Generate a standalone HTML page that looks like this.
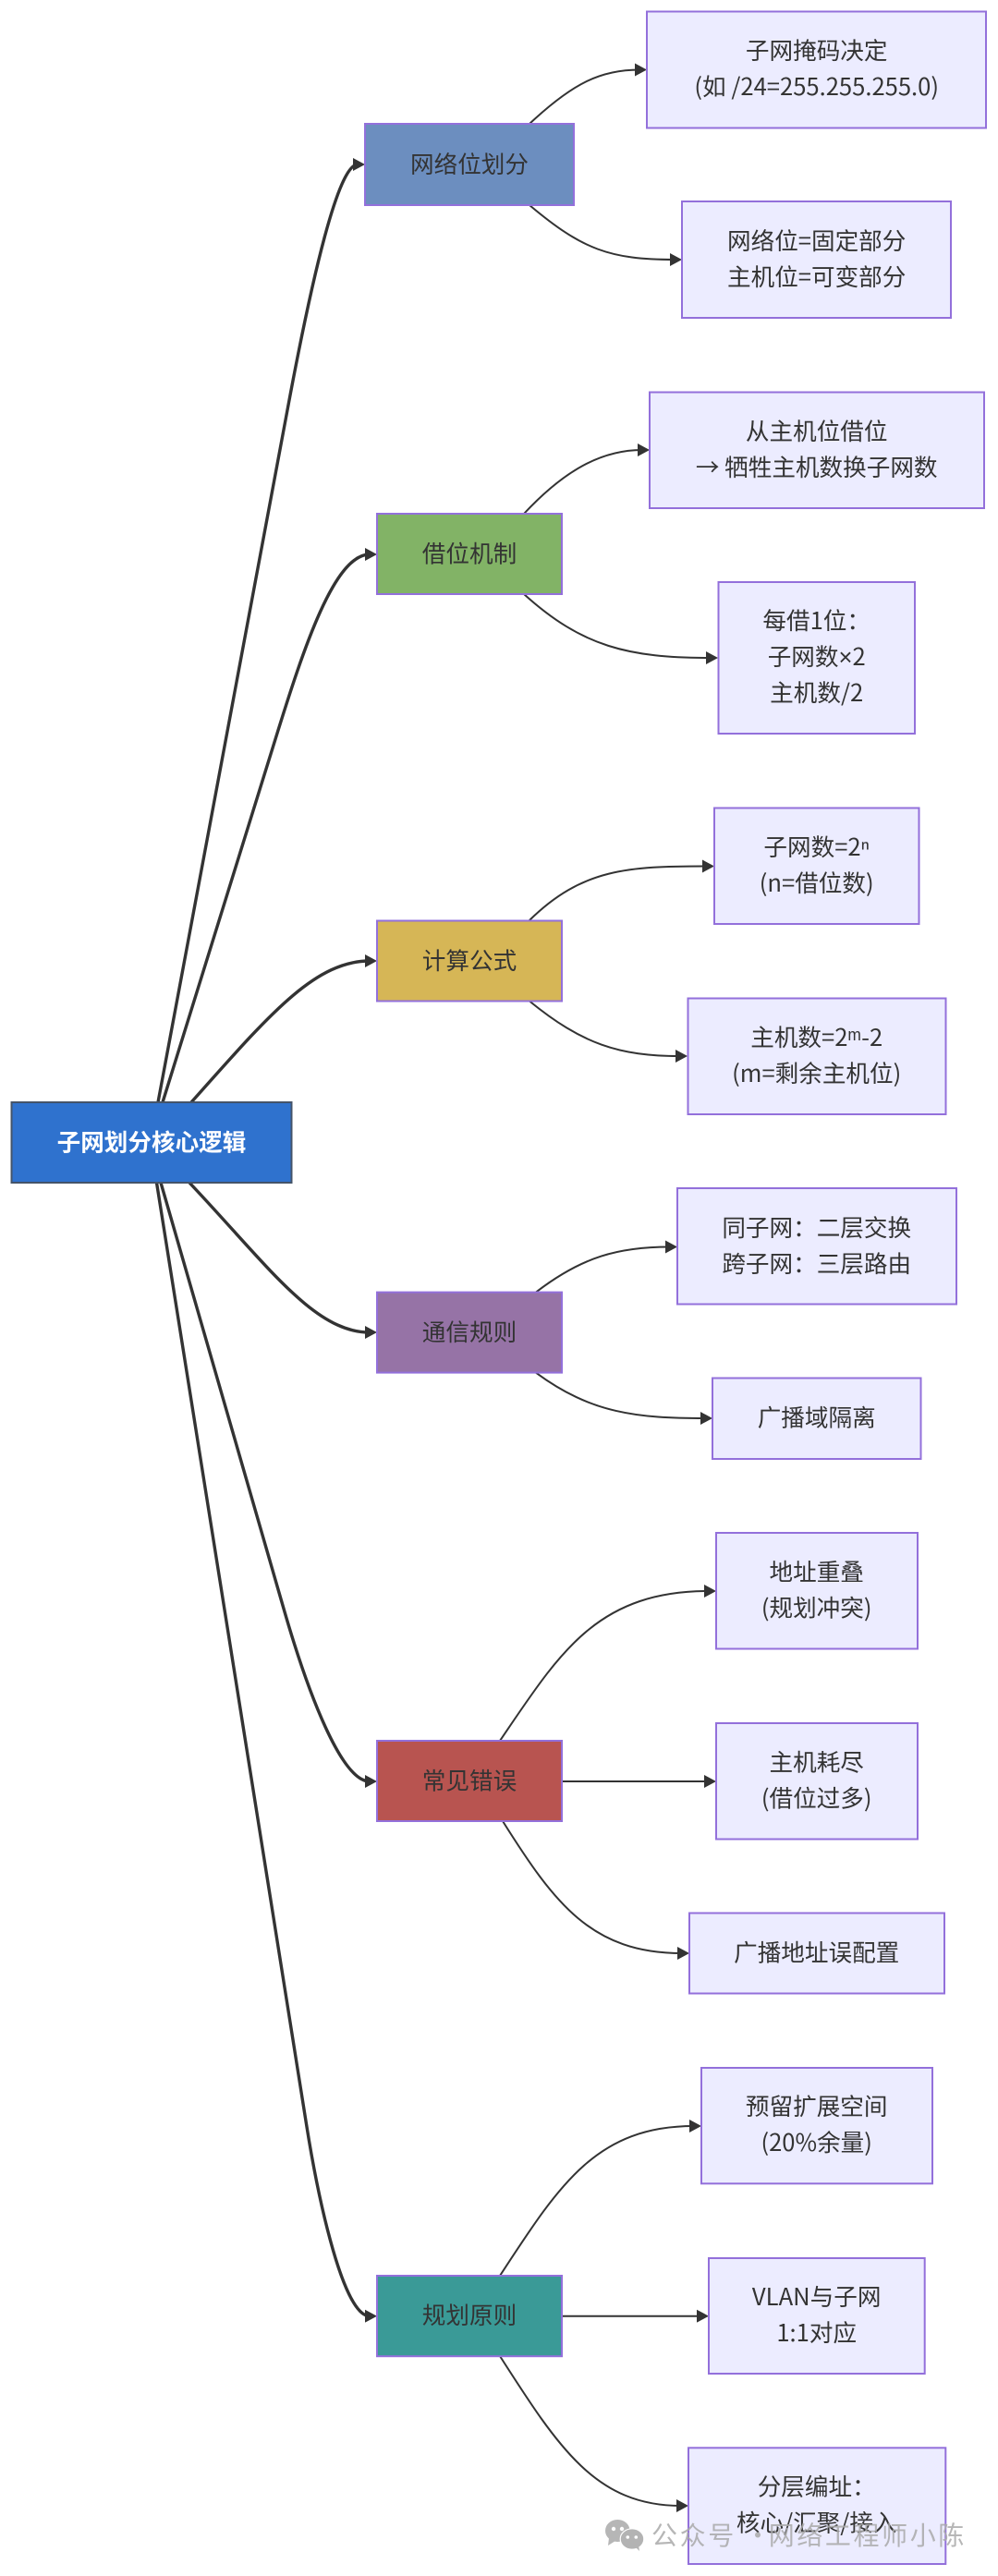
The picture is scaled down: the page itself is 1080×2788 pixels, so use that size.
<!DOCTYPE html>
<html><head><meta charset="utf-8"><style>
html,body{margin:0;padding:0;background:#fff}
svg{display:block}
text{font-family:"WenQuanYi Zen Hei","Noto Sans CJK SC","Liberation Sans",sans-serif;font-size:25.6px;fill:#333;text-anchor:middle}
.l{fill:#ececff;stroke:#9370db;stroke-width:2}
.n{stroke:#9370db;stroke-width:2}
.e1{fill:none;stroke:#333;stroke-width:3.4}
.e2{fill:none;stroke:#333;stroke-width:2}
</style></head><body>
<svg width="1080" height="2788" viewBox="0 0 1080 2788" xmlns="http://www.w3.org/2000/svg">
<defs><marker id="a" markerUnits="userSpaceOnUse" markerWidth="13" markerHeight="14" refX="5" refY="7" orient="auto" viewBox="0 0 13 14"><path d="M0,0L13,7L0,14z" fill="#333"/></marker></defs>
<rect width="1080" height="2788" fill="#fff"/>

<path class="e1" marker-end="url(#a)" d="M171,1193 L311.7,440 C337.8,300 366,178 387,178"/>
<path class="e1" marker-end="url(#a)" d="M176,1193 L298,800 C329,700 362,600 400,600"/>
<path class="e1" marker-end="url(#a)" d="M207,1193 C290,1100 340,1040 400,1040"/>
<path class="e1" marker-end="url(#a)" d="M205,1280 C290,1370 340,1442 400,1442"/>
<path class="e1" marker-end="url(#a)" d="M174,1280 L306.7,1740 C334,1835 370,1928 400,1928"/>
<path class="e1" marker-end="url(#a)" d="M169.5,1280 L331.7,2300 C345.2,2385 372,2506.7 400,2506.7"/>
<path class="e2" marker-end="url(#a)" d="M573,134 C620,90 650,75.5 692,75.5"/>
<path class="e2" marker-end="url(#a)" d="M573,222 C630,270 660,281 730,281"/>
<path class="e2" marker-end="url(#a)" d="M567,556 C610,510 650,487 695,487"/>
<path class="e2" marker-end="url(#a)" d="M567,643 C630,700 680,712 769,712"/>
<path class="e2" marker-end="url(#a)" d="M573,996 C630,940 680,937.5 765,937.5"/>
<path class="e2" marker-end="url(#a)" d="M573,1083.5 C630,1130 670,1143 736,1143"/>
<path class="e2" marker-end="url(#a)" d="M580,1398.6 C630,1360 670,1349.5 725,1349.5"/>
<path class="e2" marker-end="url(#a)" d="M580,1485.7 C640,1530 690,1535 763,1535"/>
<path class="e2" marker-end="url(#a)" d="M541,1884 C605,1790 645,1722 767,1722"/>
<path class="e2" marker-end="url(#a)" d="M608,1928 L767,1928"/>
<path class="e2" marker-end="url(#a)" d="M544,1971 C600,2060 640,2114 738,2114"/>
<path class="e2" marker-end="url(#a)" d="M541,2463 C605,2365 645,2301 751,2301"/>
<path class="e2" marker-end="url(#a)" d="M608,2506.7 L759,2506.7"/>
<path class="e2" marker-end="url(#a)" d="M541,2550 C605,2650 645,2712 737,2712"/>

<rect x="12.5" y="1193" width="303" height="87" fill="#2f72ce" stroke="#44546a" stroke-width="2"/>
<text x="164" y="1245.5" style="fill:#fff;font-weight:700">子网划分核心逻辑</text>

<rect class="n" x="395" y="134" width="226" height="88" fill="#6c8ebf"/><text x="508" y="187">网络位划分</text>
<rect class="n" x="408" y="556" width="200" height="87" fill="#82b366"/><text x="508" y="608.5">借位机制</text>
<rect class="n" x="408" y="996.5" width="200" height="87" fill="#d6b656"/><text x="508" y="1049">计算公式</text>
<rect class="n" x="408" y="1398.6" width="200" height="87" fill="#9673a6"/><text x="508" y="1451">通信规则</text>
<rect class="n" x="408" y="1884" width="200" height="87" fill="#b85450"/><text x="508" y="1936.5">常见错误</text>
<rect class="n" x="408" y="2463" width="200" height="87.2" fill="#3a9a97"/><text x="508" y="2515">规划原则</text>

<rect class="l" x="700" y="12.5" width="367" height="126"/><text x="883.7" y="64">子网掩码决定</text><text x="883.7" y="103">(如 /24=255.255.255.0)</text>
<rect class="l" x="738" y="218" width="291" height="126"/><text x="883.7" y="270">网络位=固定部分</text><text x="883.7" y="309">主机位=可变部分</text>
<rect class="l" x="703" y="424.5" width="362" height="125.5"/><text x="883.7" y="476">从主机位借位</text><text x="883.7" y="515">→ 牺牲主机数换子网数</text>
<rect class="l" x="777.5" y="630" width="212.5" height="164"/><text x="883.7" y="681">每借1位：</text><text x="883.7" y="720">子网数<tspan style="font-family:'Liberation Sans',sans-serif">×</tspan>2</text><text x="883.7" y="759">主机数/2</text>
<rect class="l" x="773" y="874.5" width="221.5" height="125.5"/><text x="883.7" y="926">子网数=2ⁿ</text><text x="883.7" y="965">(n=借位数)</text>
<rect class="l" x="744.5" y="1080.5" width="279" height="125.5"/><text x="883.7" y="1132">主机数=2ᵐ-2</text><text x="883.7" y="1171">(m=剩余主机位)</text>
<rect class="l" x="733" y="1286" width="302" height="125.5"/><text x="883.7" y="1338">同子网：二层交换</text><text x="883.7" y="1377">跨子网：三层路由</text>
<rect class="l" x="771" y="1491.5" width="225.5" height="87.5"/><text x="883.7" y="1543.5">广播域隔离</text>
<rect class="l" x="775" y="1659" width="218" height="125.5"/><text x="883.7" y="1710.5">地址重叠</text><text x="883.7" y="1749.5">(规划冲突)</text>
<rect class="l" x="775" y="1865" width="218" height="125.5"/><text x="883.7" y="1916.5">主机耗尽</text><text x="883.7" y="1955.5">(借位过多)</text>
<rect class="l" x="746" y="2070.5" width="276" height="87"/><text x="883.7" y="2122.5">广播地址误配置</text>
<rect class="l" x="759" y="2238" width="250" height="125.3"/><text x="883.7" y="2289">预留扩展空间</text><text x="883.7" y="2328">(20%余量)</text>
<rect class="l" x="767" y="2444" width="233.7" height="125"/><text x="883.7" y="2495">VLAN与子网</text><text x="883.7" y="2534">1:1对应</text>
<rect class="l" x="745" y="2649.3" width="278.3" height="125.7"/><text x="883.7" y="2700.5">分层编址：</text><text x="883.7" y="2739.5">核心/汇聚/接入</text>

<g opacity="0.85">
<ellipse cx="668.3" cy="2739" rx="13.3" ry="12" fill="#aaa"/><path d="M659,2747l-1,8 8,-5z" fill="#aaa"/>
<ellipse cx="684" cy="2748" rx="12.8" ry="11.2" fill="#a6a6a6" stroke="#fff" stroke-width="1.2"/><path d="M688,2757l4,4 -1,-6z" fill="#a6a6a6"/>
<circle cx="664" cy="2737" r="2.2" fill="#fff"/><circle cx="673" cy="2737" r="2.2" fill="#fff"/><circle cx="679.3" cy="2746" r="1.8" fill="#fff"/><circle cx="688.3" cy="2746" r="1.8" fill="#fff"/>
<text y="2754" style="font-size:28px;fill:#aaa;text-anchor:start;letter-spacing:2.6px"><tspan x="705">公众号</tspan><tspan x="806">·</tspan><tspan x="831.7">网络工程师小陈</tspan></text>
</g>
</svg>
</body></html>
